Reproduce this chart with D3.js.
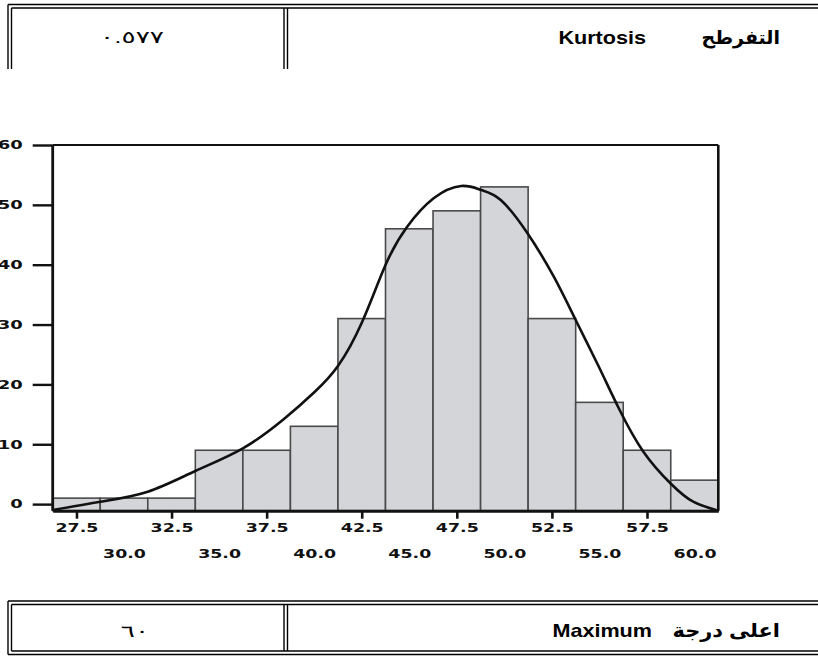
<!DOCTYPE html>
<html>
<head>
<meta charset="utf-8">
<script src="https://cdn.jsdelivr.net/npm/d3@7"></script>
<style>
  html, body { margin: 0; padding: 0; background: #fff; }
  svg { display: block; }
</style>
</head>
<body>
<svg id="chart" width="818" height="657"></svg>
<script>
// ---------- data ----------
const binCenters = [27.5, 30.0, 32.5, 35.0, 37.5, 40.0, 42.5, 45.0, 47.5, 50.0, 52.5, 55.0, 57.5, 60.0];
const counts     = [1, 1, 1, 9, 9, 13, 31, 46, 49, 53, 31, 17, 9, 4];
const binWidth = 2.5;
const yTicks = [0, 10, 20, 30, 40, 50, 60];
const xTicksUpper = [27.5, 32.5, 37.5, 42.5, 47.5, 52.5, 57.5];
const xTicksLower = [30.0, 35.0, 40.0, 45.0, 50.0, 55.0, 60.0];
// fitted curve, points
const curveX = [26.25, 28.75, 31.25, 33.75, 36.25, 38.41, 40.02, 41.25, 42.52, 43.75, 44.87, 46.28, 47.73, 48.79, 49.81, 51.19, 52.60, 53.75, 54.93, 56.01, 57.31, 58.77, 59.93, 61.25];
const curveY = [-1.0, 0.4, 2.07, 5.53, 9.32, 14.22, 18.73, 23.08, 30.43, 39.95, 46.25, 51.09, 53.15, 52.48, 50.81, 45.38, 37.99, 30.76, 23.2, 16.06, 8.76, 3.36, 0.4, -1.1];
// table texts
const topValue = "٠.٥٧٧";
const topLabelEn = "Kurtosis";
const topLabelAr = "التفرطح";
const bottomValue = "٦٠";
const bottomLabelEn = "Maximum";
const bottomLabelAr = "اعلى درجة";

// ---------- drawing ----------
const svg = d3.select("#chart");
const xDomain = [binCenters[0] - binWidth / 2, binCenters[binCenters.length - 1] + binWidth / 2];
const x = d3.scaleLinear().domain(xDomain).range([52.7, 718.3]);
const y = d3.scaleLinear().domain([-1.1, 60]).range([510.7, 145]);
const yBase = y.domain()[0];

const fontAxis = "'DejaVu Sans', Verdana, sans-serif";
const fontDoc = "'Liberation Sans', Arial, 'DejaVu Sans', sans-serif";

// bars
svg.append("g").selectAll("rect")
  .data(binCenters)
  .join("rect")
  .attr("x", (d) => x(d - binWidth / 2))
  .attr("width", (d) => x(d + binWidth / 2) - x(d - binWidth / 2))
  .attr("y", (d, i) => y(counts[i]))
  .attr("height", (d, i) => y(yBase) - y(counts[i]))
  .attr("fill", "#d4d5d9")
  .attr("stroke", "#4a4a4a")
  .attr("stroke-width", 1.6);

// curve
const curvePts = curveX.map((v, i) => [v, curveY[i]]);
svg.append("path")
  .datum(curvePts)
  .attr("fill", "none")
  .attr("stroke", "#111")
  .attr("stroke-width", 2.6)
  .attr("d", d3.line().x((d) => x(d[0])).y((d) => y(d[1])).curve(d3.curveNatural));

// frame: top and right
svg.append("line")
  .attr("x1", x(xDomain[0])).attr("x2", x(xDomain[1]))
  .attr("y1", y(60)).attr("y2", y(60))
  .attr("stroke", "#111").attr("stroke-width", 2);
svg.append("line")
  .attr("x1", x(xDomain[1])).attr("x2", x(xDomain[1]))
  .attr("y1", y(60)).attr("y2", y(yBase))
  .attr("stroke", "#111").attr("stroke-width", 2.6);

// y axis
const ySx = 1.5;
const yAxis = svg.append("g")
  .attr("transform", `translate(${x(xDomain[0])},0)`)
  .call(d3.axisLeft(y).tickValues(yTicks).tickSize(20).tickPadding(10).tickSizeOuter(0).tickFormat(d3.format("d")));
yAxis.select(".domain").attr("stroke", "#111").attr("stroke-width", 2.8)
  .attr("d", `M0,${y(60)}V${y(yBase)}`);
yAxis.selectAll(".tick line").attr("stroke", "#111").attr("stroke-width", 2.4);
yAxis.selectAll(".tick text")
  .attr("x", -30 / ySx)
  .attr("transform", `scale(${ySx},1)`)
  .attr("font-family", fontAxis).attr("font-weight", "bold").attr("font-size", 12).attr("fill", "#111");

// x axis upper row (with ticks)
const xSx = 1.45;
const xAxisTop = svg.append("g")
  .attr("transform", `translate(0,${y(yBase)})`)
  .call(d3.axisBottom(x).tickValues(xTicksUpper).tickSize(8).tickPadding(5).tickSizeOuter(0).tickFormat(d3.format(".1f")));
xAxisTop.select(".domain").attr("stroke", "#111").attr("stroke-width", 3);
xAxisTop.selectAll(".tick line").attr("stroke", "#111").attr("stroke-width", 2.6);
xAxisTop.selectAll(".tick text")
  .attr("transform", `scale(${xSx},1)`)
  .attr("font-family", fontAxis).attr("font-weight", "bold").attr("font-size", 12).attr("fill", "#111");

// x axis lower row (labels only)
const xAxisLow = svg.append("g")
  .attr("transform", `translate(0,${y(yBase)})`)
  .call(d3.axisBottom(x).tickValues(xTicksLower).tickSize(0).tickPadding(39).tickSizeOuter(0).tickFormat(d3.format(".1f")));
xAxisLow.select(".domain").remove();
xAxisLow.selectAll(".tick line").remove();
xAxisLow.selectAll(".tick text")
  .attr("transform", `scale(${xSx},1)`)
  .attr("font-family", fontAxis).attr("font-weight", "bold").attr("font-size", 12).attr("fill", "#111");

// ---------- tables ----------
function hline(x1, x2, yy, w) {
  svg.append("line").attr("x1", x1).attr("x2", x2).attr("y1", yy).attr("y2", yy)
    .attr("stroke", "#000").attr("stroke-width", w || 1.4);
}
function vline(xx, y1, y2, w) {
  svg.append("line").attr("x1", xx).attr("x2", xx).attr("y1", y1).attr("y2", y2)
    .attr("stroke", "#000").attr("stroke-width", w || 1.4);
}
function stext(str, tx, ty, anchor, size, weight, sx) {
  svg.append("g").attr("transform", `translate(${tx},${ty}) scale(${sx},1)`)
    .append("text").text(str)
    .attr("text-anchor", anchor)
    .attr("font-family", fontDoc)
    .attr("font-size", size)
    .attr("font-weight", weight)
    .attr("fill", "#000");
}

// top table
hline(8, 830, 4.5);
hline(11.5, 830, 8);
vline(8, 4.5, 69);
vline(11.5, 8, 69);
vline(284, 8, 69);
vline(287.5, 8, 69);
stext(topValue, 132, 43, "middle", 17, "normal", 1.55);
stext(topLabelAr, 780, 44, "end", 19, "bold", 1.0);
stext(topLabelEn, 646, 44, "end", 18, "bold", 1.2);

// bottom table
hline(8, 830, 601);
hline(11.5, 830, 604.5);
hline(11.5, 830, 651);
hline(8, 830, 654.5);
vline(8, 601, 654.5);
vline(11.5, 604.5, 651);
vline(284, 604.5, 651);
vline(287.5, 604.5, 651);
stext(bottomValue, 135, 637, "middle", 17, "normal", 1.55);
stext(bottomLabelAr, 780, 637, "end", 19, "bold", 1.1);
stext(bottomLabelEn, 652, 637, "end", 18, "bold", 1.2);
</script>
</body>
</html>
